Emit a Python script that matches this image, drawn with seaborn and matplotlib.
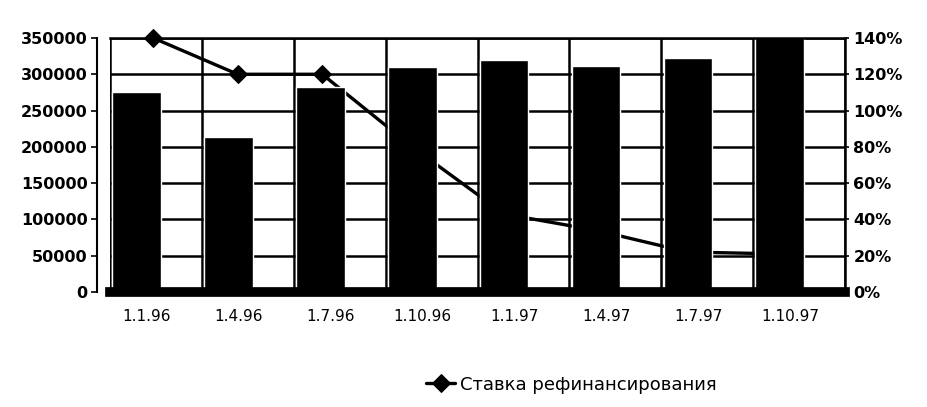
import numpy as np
import pandas as pd
import matplotlib
matplotlib.use('Agg')
import matplotlib.pyplot as plt
import seaborn as sns

# data
dates = ['1.1.96', '1.4.96', '1.7.96', '1.10.96', '1.1.97', '1.4.97', '1.7.97', '1.10.97']
volume = [275000, 213000, 283000, 310000, 320000, 312000, 322000, 360000]
rate = [140, 120, 120, 80, 43, 34, 22, 21]
left_ticks = [0, 50000, 100000, 150000, 200000, 250000, 300000, 350000]
right_ticks = [0, 20, 40, 60, 80, 100, 120, 140]

sns.set_style('white')
plt.rcParams['font.family'] = ['DejaVu Sans']
plt.rcParams['text.color'] = 'black'

pos = np.arange(len(dates))
# the 3d perspective pushes the first line points a bit to the right of the bars
line_shift = np.array([0.18, 0.1, 0.02, 0, 0, 0, 0, 0])
bars = pd.DataFrame({'pos': pos - 0.21, 'volume': volume})
line = pd.DataFrame({'pos': pos - 0.21 + line_shift, 'rate': rate})

fig = plt.figure(figsize=(9.28, 4.07), dpi=100)
ax = fig.add_axes([0.1185, 0.2826, 0.7921, 0.6241])
ax2 = ax.twinx()
ax.set_zorder(ax2.get_zorder() + 1)
ax.patch.set_visible(False)

sns.barplot(data=bars, x='pos', y='volume', native_scale=True, width=0.53,
            color='black', saturation=1, errorbar=None, ax=ax)
sns.lineplot(data=line, x='pos', y='rate', ax=ax2, color='black', lw=2.4,
             marker='D', markersize=9, markeredgecolor='black',
             label='Ставка рефинансирования', clip_on=False)

ax.set_xlim(-0.5, 7.5)
ax.set_ylim(0, 350000)
ax2.set_ylim(0, 140)

ax.set_xticks(pos - 0.1)
ax.set_xticklabels(dates, fontsize=11)
ax.set_xticks(np.arange(-0.5, 8, 1), minor=True)
ax.set_yticks(left_ticks)
ax.set_yticklabels([str(v) for v in left_ticks])
ax2.set_yticks(right_ticks)
ax2.set_yticklabels([f'{v}%' for v in right_ticks])
ax.set_xlabel('')
ax.set_ylabel('')
ax2.set_ylabel('')

ax.set_axisbelow(True)
ax.grid(which='major', axis='y', color='black', lw=1.8)
ax.grid(which='minor', axis='x', color='black', lw=1.8)
ax.tick_params(axis='x', which='both', length=0, pad=12, colors='black')
ax.tick_params(axis='y', length=4, width=1.2, pad=3, colors='black')
ax2.tick_params(axis='y', length=3, width=1.2, pad=3, colors='black')

for s in ['top', 'right']:
    ax.spines[s].set_color('black')
    ax.spines[s].set_linewidth(1.8)
ax.spines['bottom'].set_color('black')
ax.spines['bottom'].set_linewidth(7)
ax.spines['left'].set_position(('outward', 9))
ax.spines['left'].set_color('black')
ax.spines['left'].set_linewidth(1.5)
for s in ax2.spines.values():
    s.set_visible(False)

handles, labels = ax2.get_legend_handles_labels()
ax2.get_legend().remove()
fig.legend(handles, labels, loc='center', bbox_to_anchor=(0.616, 0.055),
           frameon=False, fontsize=13, handlelength=1.6, handletextpad=0.3,
           labelcolor='black')

plt.setp(ax.get_yticklabels(), fontsize=11.5, fontweight='bold')
plt.setp(ax2.get_yticklabels(), fontsize=11.5, fontweight='bold')

fig.savefig('out.png', dpi=100)
